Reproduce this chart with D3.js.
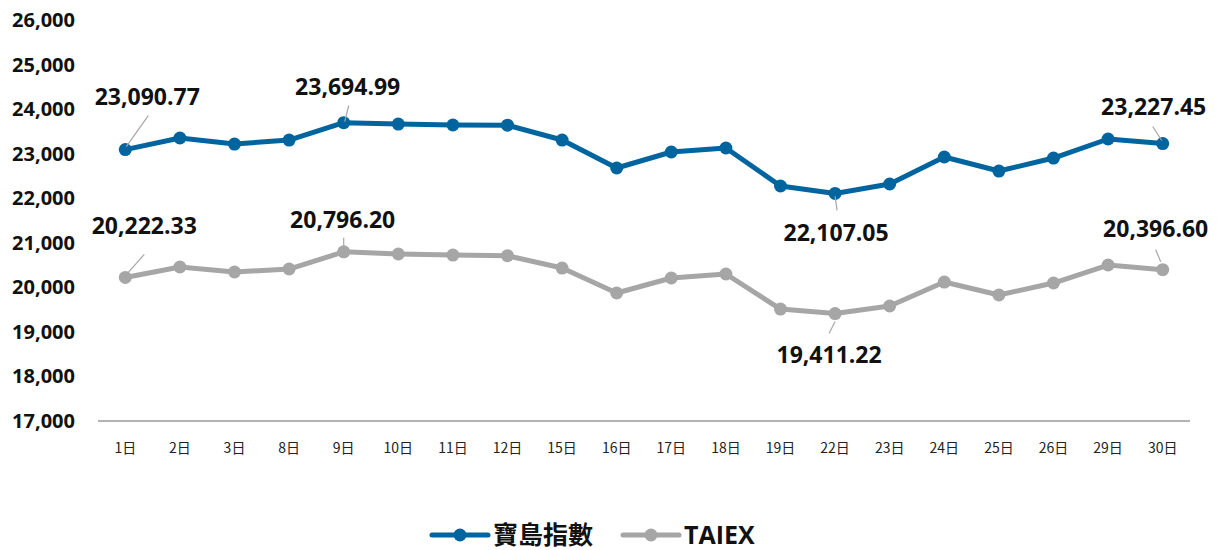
<!DOCTYPE html>
<html>
<head>
<meta charset="utf-8">
<script src="https://cdn.jsdelivr.net/npm/d3@7"></script>
<style>
  body { margin: 0; background: #fff; }
  svg text { font-family: "Open Sans", "Noto Sans", sans-serif; }
</style>
</head>
<body>
<div id="chart"></div>
<script>
// categories and values
const days = ["1日","2日","3日","8日","9日","10日","11日","12日","15日","16日","17日","18日","19日","22日","23日","24日","25日","26日","29日","30日"];
const formosa = [23090.77,23351,23216,23306,23694.99,23665,23643,23640,23306,22678,23037,23127,22274,22107.05,22319,22925,22610,22902,23329,23227.45];
const taiex = [20222.33,20456,20344,20411,20796.20,20748,20725,20710,20433,19873,20209,20299,19513,19411.22,19581,20119,19828,20097,20501,20396.60];
const yTicks = [17000,18000,19000,20000,21000,22000,23000,24000,25000,26000];
const seriesNames = ["寶島指數","TAIEX"];

const width = 1219, height = 550;
const margin = { top: 20, right: 29, bottom: 129, left: 98 };

const svg = d3.select("#chart").append("svg")
  .attr("width", width)
  .attr("height", height);

const x = d3.scalePoint()
  .domain(days)
  .range([margin.left, width - margin.right])
  .padding(0.5);

const y = d3.scaleLinear()
  .domain([17000, 26000])
  .range([height - margin.bottom, margin.top]);

// y axis labels (no line)
svg.append("g")
  .selectAll("text")
  .data(yTicks)
  .enter().append("text")
  .attr("x", 75)
  .attr("y", d => y(d))
  .attr("dy", "0.35em")
  .attr("text-anchor", "end")
  .style("font-size", "20px")
  .style("font-weight", "bold")
  .style("fill", "#111")
  .text(d => d3.format(",")(d));

// x axis
svg.append("line")
  .attr("x1", margin.left)
  .attr("x2", width - margin.right)
  .attr("y1", y(17000))
  .attr("y2", y(17000))
  .attr("stroke", "#999")
  .attr("stroke-width", 1.5);

svg.append("g")
  .selectAll("text")
  .data(days)
  .enter().append("text")
  .attr("x", d => x(d))
  .attr("y", y(17000) + 32)
  .attr("text-anchor", "middle")
  .style("font-family", "'Noto Sans CJK TC', sans-serif")
  .style("font-size", "14px")
  .style("fill", "#222")
  .text(d => d);

const series = [
  { name: seriesNames[0], values: formosa, color: "#00659E" },
  { name: seriesNames[1], values: taiex, color: "#A6A6A6" }
];

const line = d3.line()
  .x((d, i) => x(days[i]))
  .y(d => y(d));

series.forEach(s => {
  svg.append("path")
    .datum(s.values)
    .attr("fill", "none")
    .attr("stroke", s.color)
    .attr("stroke-width", 5)
    .attr("stroke-linejoin", "round")
    .attr("d", line);

  svg.append("g")
    .selectAll("circle")
    .data(s.values)
    .enter().append("circle")
    .attr("cx", (d, i) => x(days[i]))
    .attr("cy", d => y(d))
    .attr("r", 6.5)
    .attr("fill", s.color);
});

// data labels with leader lines (offsets from the point)
const labelStyle = [
  { s: 0, i: 0, dx: 22, dy: -45, l1: [23, -34], l2: [1, -3] },
  { s: 0, i: 4, dx: 4, dy: -28, l1: [5, -17], l2: [1, -1] },
  { s: 0, i: 13, dx: 1, dy: 48, l1: [0, 3], l2: [2, 17] },
  { s: 0, i: 19, dx: -9, dy: -29, l1: [-10, -17], l2: [-1, -3] },
  { s: 1, i: 0, dx: 19, dy: -43, l1: [19, -23], l2: [3, -5] },
  { s: 1, i: 4, dx: -1, dy: -24, l1: [0, -14], l2: [0, -4] },
  { s: 1, i: 13, dx: -6, dy: 49, l1: [0, 8], l2: [-6, 20] },
  { s: 1, i: 19, dx: -7, dy: -33, l1: [-7, -20], l2: [-2, -8] }
];

labelStyle.forEach(o => {
  const v = series[o.s].values[o.i];
  const px = x(days[o.i]), py = y(v);
  svg.append("line")
    .attr("x1", px + o.l1[0]).attr("y1", py + o.l1[1])
    .attr("x2", px + o.l2[0]).attr("y2", py + o.l2[1])
    .attr("stroke", "#A6A6A6")
    .attr("stroke-width", 1.2);
  svg.append("text")
    .attr("x", px + o.dx)
    .attr("y", py + o.dy)
    .attr("text-anchor", "middle")
    .style("font-size", "23px")
    .style("font-weight", "bold")
    .style("fill", "#111")
    .text(d3.format(",.2f")(v));
});

// legend
const legendX = [432, 623];
series.forEach((s, k) => {
  const lg = svg.append("g").attr("transform", `translate(${legendX[k]},535)`);
  lg.append("line")
    .attr("x1", 0).attr("x2", 56)
    .attr("stroke", s.color)
    .attr("stroke-width", 5)
    .attr("stroke-linecap", "round");
  lg.append("circle")
    .attr("cx", 28).attr("r", 6.5)
    .attr("fill", s.color);
  lg.append("text")
    .attr("x", 61)
    .attr("dy", "0.35em")
    .style("font-family", k === 0 ? "'Noto Sans CJK TC', sans-serif" : "'Open Sans', sans-serif")
    .style("font-size", "25px")
    .style("font-weight", "bold")
    .style("fill", "#111")
    .text(s.name);
});
</script>
</body>
</html>
